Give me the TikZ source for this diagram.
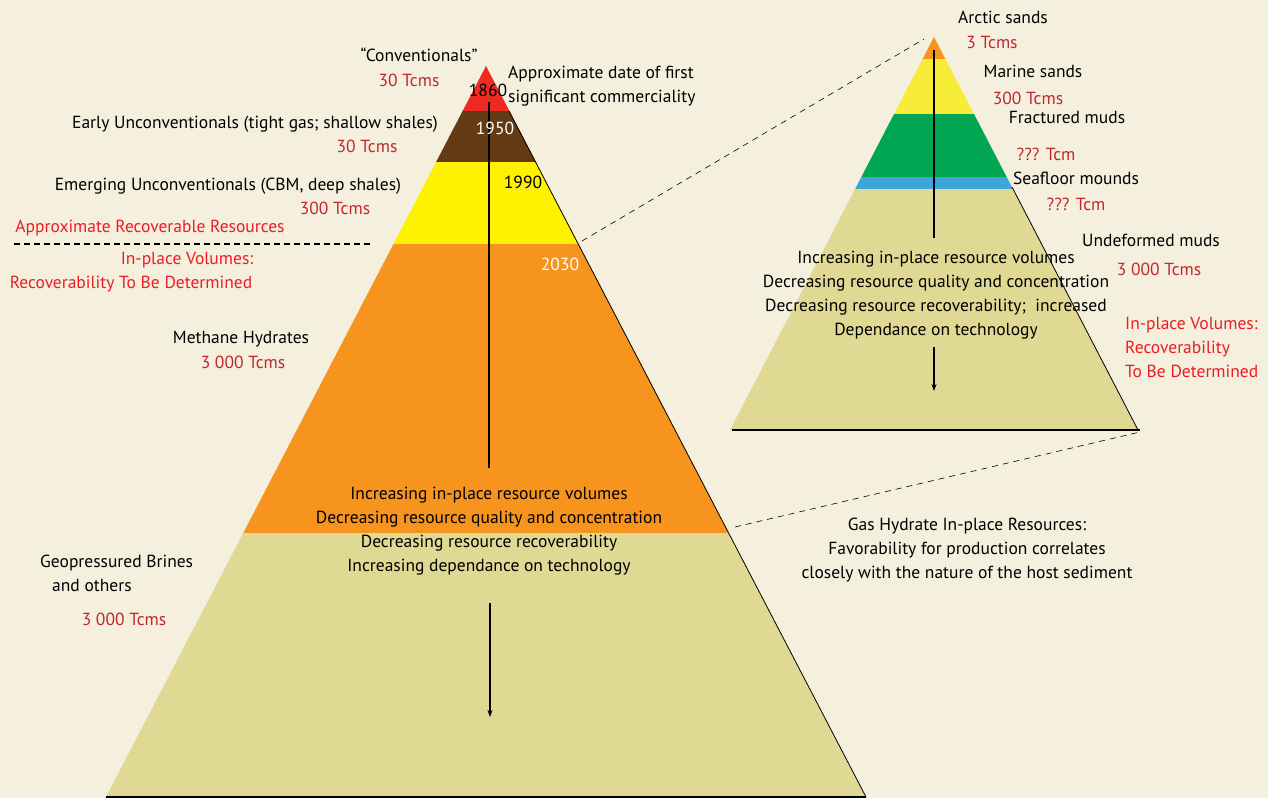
\documentclass[tikz,border=0pt]{standalone}
\usepackage{fontspec}
\setmainfont{PT Sans}
\usetikzlibrary{arrows.meta}
\definecolor{bg}{HTML}{F5F0DE}
\definecolor{lred}{HTML}{ED2A24}
\definecolor{lbrown}{HTML}{623A14}
\definecolor{lyellow}{HTML}{FFF200}
\definecolor{lorange}{HTML}{F7941D}
\definecolor{lkhaki}{HTML}{E0D993}
\definecolor{lgreen}{HTML}{00A651}
\definecolor{lblue}{HTML}{3FA4DB}
\definecolor{lyel2}{HTML}{F7EC38}
\definecolor{dred}{HTML}{C1272D}
\definecolor{bred}{HTML}{ED1C24}
\tikzset{
  lbl/.style={inner sep=0pt, font=\fontsize{17.5}{24}\selectfont, text height=12pt, text depth=0pt},
  blk/.style={lbl, text=black},
  qty/.style={lbl, text=dred},
  note/.style={lbl, text=bred},
  mlines/.style={inner sep=0pt, font=\fontsize{17.5}{24}\selectfont, align=center},
  guide/.style={black, line width=0.6pt, dash pattern=on 6pt off 5pt},
  axis/.style={black, line width=1.6pt},
  arr/.style={black, line width=1.2pt, -{Stealth[length=7pt,width=5pt]}},
}
\begin{document}
\begin{tikzpicture}[x=1pt,y=-1pt]
\fill[bg] (0,0) rectangle (1268,798);
\useasboundingbox (0,0) rectangle (1268,798);

% ---------- big pyramid ----------
\begin{scope}
\clip (106,797) -- (486,66) -- (866,797) -- cycle;
\fill[lred] (0,60) rectangle (1268,111);
\fill[lbrown] (0,111) rectangle (1268,162);
\fill[lyellow] (0,162) rectangle (1268,244);
\fill[lorange] (0,244) rectangle (1268,533);
\fill[lkhaki] (0,533) rectangle (1268,800);
\end{scope}
\draw[black, line width=0.8pt] (509,111) -- (866,797);
\draw[black, line width=2.5pt] (106,797) -- (866,797);

% ---------- small pyramid ----------
\begin{scope}
\clip (730,430) -- (934,37) -- (1138,430) -- cycle;
\fill[lorange] (700,30) rectangle (1200,59);
\fill[lyel2] (700,59) rectangle (1200,114);
\fill[lgreen] (700,114) rectangle (1200,177);
\fill[lblue] (700,177) rectangle (1200,189);
\fill[lkhaki] (700,189) rectangle (1200,431);
\end{scope}
\draw[black, line width=0.8pt] (1012,187) -- (1138,430);
\draw[black, line width=2pt] (732,430) -- (1140,430);

% ---------- guide lines ----------
\coordinate (g1a) at (582,241);
\coordinate (g1b) at (924,39);
\coordinate (g2a) at (735,527);
\coordinate (g2b) at (1140,432);
\coordinate (sepA) at (14,244);
\coordinate (sepB) at (372,244);
\draw[guide] (g1a) -- (g1b);
\draw[guide] (g2a) -- (g2b);
\draw[black, line width=1.2pt, dash pattern=on 6pt off 4pt] (sepA) -- (sepB);

% ---------- axes and arrows ----------
\coordinate (ax1) at (489,102);
\coordinate (ax2) at (489,468);
\coordinate (ar1) at (490,603);
\coordinate (ar2) at (490,717);
\draw[axis] (ax1) -- (ax2);
\draw[arr] (ar1) -- (ar2);
\coordinate (sx1) at (934,50);
\coordinate (sx2) at (934,238);
\coordinate (sr1) at (934,347);
\coordinate (sr2) at (934,391);
\draw[axis] (sx1) -- (sx2);
\draw[arr] (sr1) -- (sr2);

% ---------- big pyramid labels ----------
\node[blk] (conv) at (419,55) {“Conventionals”};
\node[qty] (convq) at (409,80) {30 Tcms};
\node[blk] (early) at (255,122) {Early Unconventionals (tight gas; shallow shales)};
\node[qty] (earlyq) at (367,146) {30 Tcms};
\node[blk] (emerg) at (228,184) {Emerging Unconventionals (CBM, deep shales)};
\node[qty] (emergq) at (335,208) {300 Tcms};
\node[note] (recov) at (150,226) {Approximate Recoverable Resources};
\node[note] (inpl) at (187,258) {In-place Volumes:};
\node[note] (tbd) at (131,282) {Recoverability To Be Determined};
\node[blk] (meth) at (241,337) {Methane Hydrates};
\node[qty] (methq) at (243,362) {3 000 Tcms};
\node[blk, anchor=west] (geo1) at (40,561) {Geopressured Brines};
\node[blk, anchor=west] (geo2) at (52,585) {and others};
\node[qty] (geoq) at (124,619) {3 000 Tcms};

\node[blk] (y1860) at (488,90) {1860};
\node[lbl, text=white] (y1950) at (495,128) {1950};
\node[blk] (y1990) at (523,182) {1990};
\node[lbl, text=white] (y2030) at (560,264) {2030};
\node[mlines, anchor=north west, align=left] (date) at (508,66) {Approximate date of first\\significant commerciality};

\node[mlines, anchor=north] (trend) at (489,487) {Increasing in-place resource volumes\\Decreasing resource quality and concentration\\Decreasing resource recoverability\\Increasing dependance on technology};

% ---------- small pyramid labels ----------
\node[blk] (arct) at (1003,17) {Arctic sands};
\node[qty] (arctq) at (992,42) {3 Tcms};
\node[blk] (mar) at (1033,71) {Marine sands};
\node[qty] (marq) at (1028,98) {300 Tcms};
\node[blk] (frac) at (1067,117) {Fractured muds};
\node[qty] (fracq) at (1046,154) {??? Tcm};
\node[blk] (sea) at (1076,178) {Seafloor mounds};
\node[qty] (seaq) at (1076,204) {??? Tcm};
\node[blk] (und) at (1151,240) {Undeformed muds};
\node[qty] (undq) at (1159,269) {3 000 Tcms};
\node[mlines, anchor=north west, align=left, text=bred] (inpl2) at (1125,317) {In-place Volumes:\\Recoverability\\To Be Determined};

\node[mlines, anchor=north] (trend2) at (936,251) {Increasing in-place resource volumes\\Decreasing resource quality and concentration\\Decreasing resource recoverability;\ \ increased\\Dependance on technology};

\node[mlines, anchor=north] (ghr) at (967,518) {Gas Hydrate In-place Resources:\\Favorability for production correlates\\closely with the nature of the host sediment};
\end{tikzpicture}
\end{document}
